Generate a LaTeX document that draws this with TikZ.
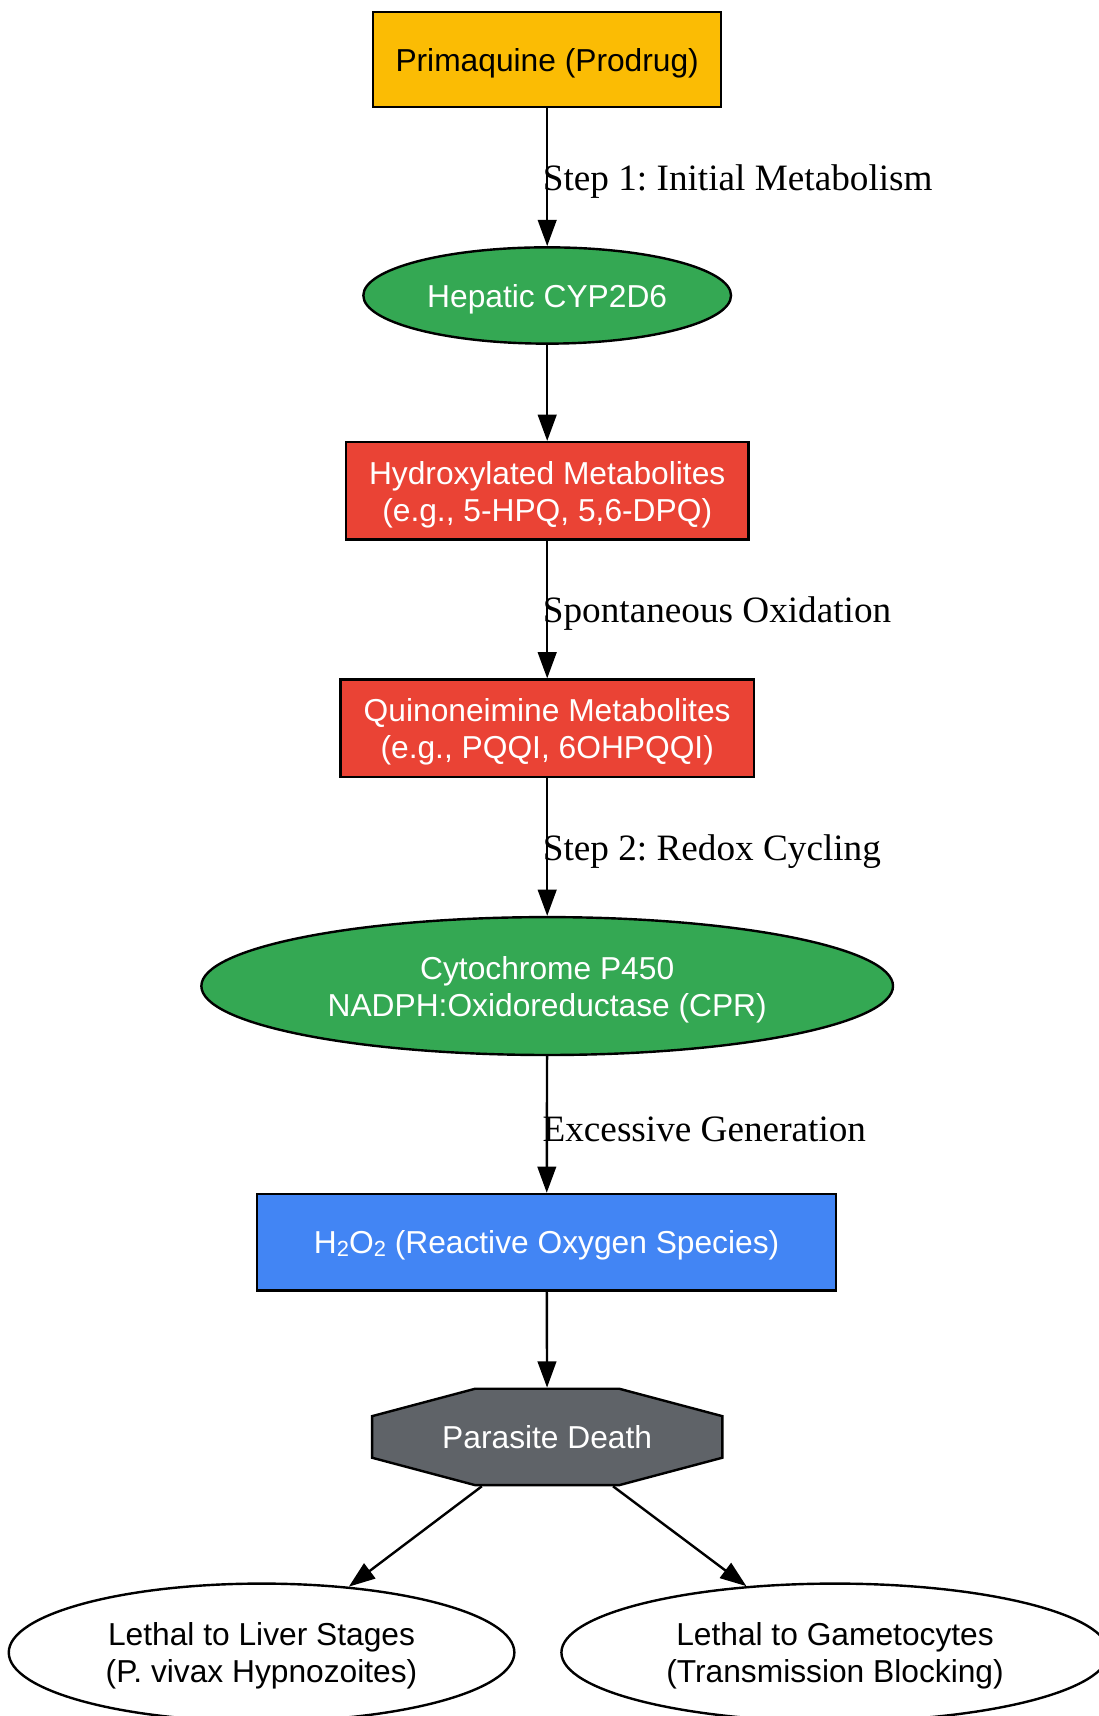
\documentclass[tikz,border=0pt]{standalone}
\usepackage{fontspec}
\setmainfont{Liberation Sans}
\newfontfamily\labelfont{Liberation Serif}
\usetikzlibrary{arrows.meta,shapes.geometric,calc}
\definecolor{gyellow}{HTML}{FBBC04}
\definecolor{ggreen}{HTML}{34A853}
\definecolor{gred}{HTML}{EA4335}
\definecolor{gblue}{HTML}{4285F4}
\definecolor{ggrey}{HTML}{5F6368}
\newcommand{\subtwo}{{\fontsize{10pt}{10pt}\selectfont\raisebox{-1pt}{2}}}
\newcommand{\ntext}[1]{\raisebox{-2pt}[\height][\depth]{\begin{tabular}{@{}c@{}}#1\end{tabular}}}
\tikzset{
  base/.style={draw=black, line width=1.1pt, inner sep=0pt,
    font=\fontsize{14.5pt}{17pt}\selectfont},
  boxnode/.style={base, rectangle},
  ellnode/.style={base, ellipse},
  conn/.style={line width=1.1pt, -{Triangle[length=12pt,width=8.5pt]}},
  elabel/.style={midway, anchor=west, inner sep=0pt, xshift=-2.5pt, yshift=-2pt,
    font=\labelfont\fontsize{17pt}{20pt}\selectfont\frenchspacing}
}
\begin{document}
\begin{tikzpicture}[x=0.5pt,y=-0.5pt]
\useasboundingbox[fill=white] (0,0) rectangle (1004,1568);
\node[boxnode, fill=gyellow, text=black, minimum width=159pt, minimum height=43.5pt] (prim) at (500,54.5) {\ntext{Primaquine (Prodrug)}};
\node[ellnode, fill=ggreen, text=white, minimum width=168pt, minimum height=44pt] (cyp) at (500,270) {\ntext{Hepatic CYP2D6}};
\node[boxnode, fill=gred, text=white, minimum width=184pt, minimum height=44.5pt] (hyd) at (500,448.5) {\ntext{Hydroxylated Metabolites\\(e.g., 5-HPQ, 5,6-DPQ)}};
\node[boxnode, fill=gred, text=white, minimum width=189pt, minimum height=44.5pt] (quin) at (500,665.5) {\ntext{Quinoneimine Metabolites\\(e.g., PQQI, 6OHPQQI)}};
\node[ellnode, fill=ggreen, text=white, minimum width=316pt, minimum height=63pt] (cpr) at (500,901) {\ntext{Cytochrome P450\\NADPH:Oxidoreductase (CPR)}};
\node[boxnode, fill=gblue, text=white, minimum width=264.5pt, minimum height=44pt] (h2o2) at (499.5,1135) {\ntext{H\subtwo O\subtwo{} (Reactive Oxygen Species)}};
\coordinate (dc) at (500,1313);
\draw[fill=ggrey, line width=1.1pt, line join=miter]
  ($(dc)+(-66,-44)$) -- ($(dc)+(66,-44)$) -- ($(dc)+(160,-19)$) --
  ($(dc)+(160,19)$) -- ($(dc)+(66,44)$) -- ($(dc)+(-66,44)$) --
  ($(dc)+(-160,19)$) -- ($(dc)+(-160,-19)$) -- cycle;
\node[base, draw=none, rectangle, text=white, minimum width=160pt, minimum height=44pt] (death) at (dc) {\ntext{Parasite Death}};
\node[ellnode, fill=white, text=black, minimum width=231pt, minimum height=63pt] (liver) at (239,1510) {\ntext{Lethal to Liver Stages\\(P. vivax Hypnozoites)}};
\node[ellnode, fill=white, text=black, minimum width=250pt, minimum height=63pt] (gam) at (763,1510) {\ntext{Lethal to Gametocytes\\(Transmission Blocking)}};
\draw[conn] (prim) -- node[elabel] {Step 1: Initial Metabolism} (cyp);
\draw[conn] (cyp) -- (hyd);
\draw[conn] (hyd) -- node[elabel] {Spontaneous Oxidation} (quin);
\draw[conn] (quin) -- node[elabel] {Step 2: Redox Cycling} (cpr);
\draw[conn] (cpr) -- node[elabel] {Excessive Generation} (h2o2);
\draw[conn] (h2o2) -- (death);
\draw[conn] (death) -- (liver);
\draw[conn] (death) -- (gam);
\end{tikzpicture}
\end{document}
